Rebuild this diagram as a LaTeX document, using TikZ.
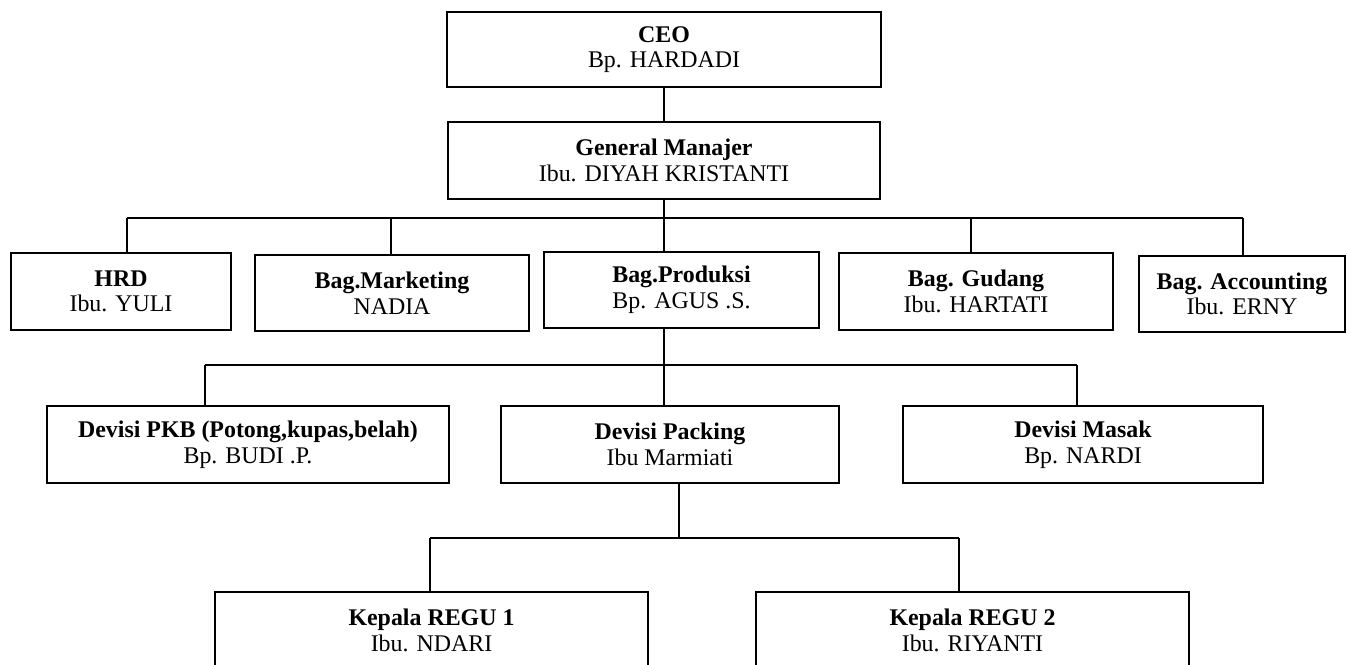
\documentclass[tikz,border=0pt]{standalone}
\usepackage{fontspec}
\setmainfont{Liberation Serif}
\usepackage{tikz}
\usetikzlibrary{positioning,calc}
\newcommand{\orgfont}{\fontsize{13.6}{14.6}\selectfont}
\tikzset{
    jabatan/.style={rectangle, draw=black, line width=1.1pt, fill=white, align=center,
        inner sep=0pt, minimum height=1.54cm, font=\orgfont},
    garis/.style={draw=black, line width=0.9pt}
}

\begin{document}
\begin{tikzpicture}[x=0.02cm, y=-0.02cm]
    \useasboundingbox (0,0) rectangle (1347,664);

    % Top management
    \node[jabatan, minimum width=8.68cm, minimum height=1.5cm]
        (ceo) at (664, 49.5) {\textbf{CEO}\\Bp. HARDADI};
    \node[jabatan, minimum width=8.64cm]
        (gm) at (664, 160.5) {\textbf{General Manajer}\\Ibu. DIYAH KRISTANTI};

    % Departments
    \node[jabatan, minimum width=4.4cm]
        (hrd) at (121, 291.5) {\textbf{HRD}\\Ibu. YULI};
    \node[jabatan, minimum width=5.48cm, minimum height=1.52cm]
        (mkt) at (392, 293) {\textbf{Bag.Marketing}\\NADIA};
    \node[jabatan, minimum width=5.5cm, minimum height=1.52cm]
        (prod) at (681.5, 290) {\textbf{Bag.Produksi}\\Bp. AGUS .S.};
    \node[jabatan, minimum width=5.48cm]
        (gdg) at (976, 291.5) {\textbf{Bag. Gudang}\\Ibu. HARTATI};
    \node[jabatan, minimum width=4.12cm, minimum height=1.52cm]
        (acc) at (1242, 294) {\textbf{Bag. Accounting}\\Ibu. ERNY};

    % Production divisions
    \node[jabatan, minimum width=8.04cm]
        (pkb) at (248, 444.5) {\textbf{Devisi PKB (Potong,kupas,belah)}\\Bp. BUDI .P.};
    \node[jabatan, minimum width=6.76cm]
        (pack) at (670, 444.5) {\textbf{Devisi Packing}\\Ibu Marmiati};
    \node[jabatan, minimum width=7.2cm]
        (masak) at (1083, 444.5) {\textbf{Devisi Masak}\\Bp. NARDI};

    % Team leaders
    \node[jabatan, minimum width=8.66cm]
        (regu1) at (431.5, 630.5) {\textbf{Kepala REGU 1}\\Ibu. NDARI};
    \node[jabatan, minimum width=8.66cm]
        (regu2) at (972.5, 630.5) {\textbf{Kepala REGU 2}\\Ibu. RIYANTI};

    % CEO to GM
    \draw[garis] (ceo) -- (gm);

    % GM to departments
    \foreach \n/\x in {hrd/127, mkt/391, prod/664, gdg/971, acc/1243} {
        \coordinate (t-\n) at (\x, 218);
        \draw[garis] (t-\n) -- (t-\n |- \n.north);
    }
    \draw[garis] (gm.south) -- (t-prod);
    \draw[garis] (t-hrd) -- (t-acc);

    % Produksi to divisions
    \foreach \n/\x in {pkb/205, pack/664, masak/1077} {
        \coordinate (u-\n) at (\x, 365);
        \draw[garis] (u-\n) -- (u-\n |- \n.north);
    }
    \draw[garis] (t-prod |- prod.south) -- (u-pack);
    \draw[garis] (u-pkb) -- (u-masak);

    % Packing to team leaders
    \coordinate (v-mid) at (679, 538);
    \foreach \n/\x in {regu1/430, regu2/959} {
        \coordinate (v-\n) at (\x, 538);
        \draw[garis] (v-\n) -- (v-\n |- \n.north);
    }
    \draw[garis] (v-mid |- pack.south) -- (v-mid);
    \draw[garis] (v-regu1) -- (v-regu2);
\end{tikzpicture}
\end{document}
